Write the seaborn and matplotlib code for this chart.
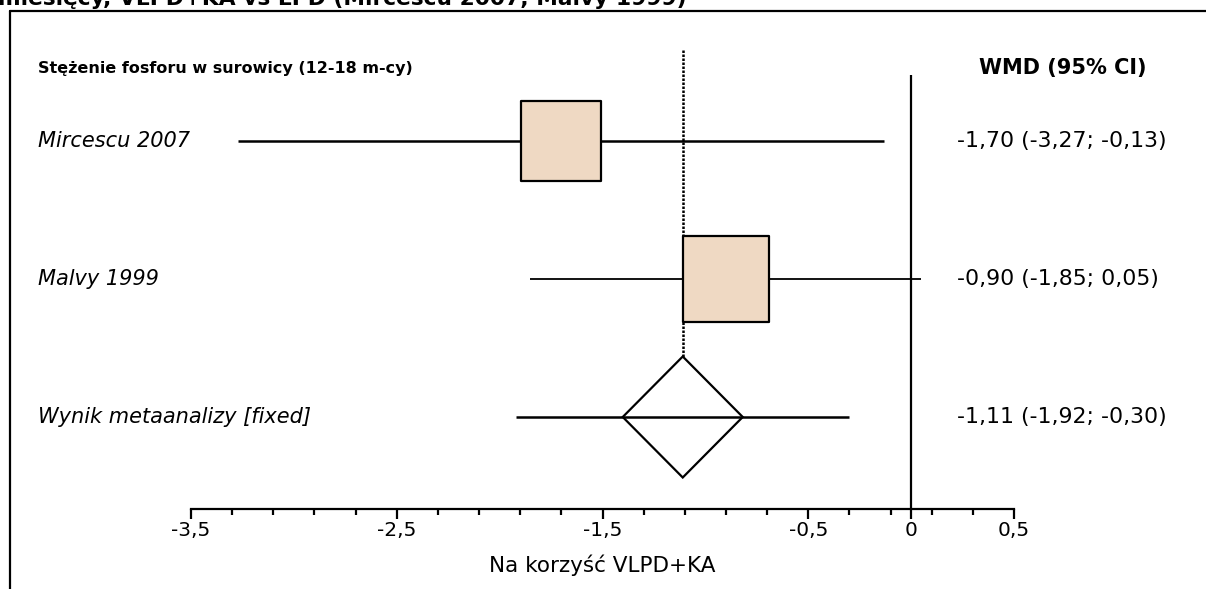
import numpy as np
import matplotlib.pyplot as plt
import matplotlib.transforms as mtransforms
from matplotlib.lines import Line2D
from matplotlib.patches import Polygon
import seaborn as sns

sns.set_style('white')
plt.rcParams['font.family'] = ['DejaVu Sans']
plt.rcParams['text.color'] = 'black'
plt.rcParams['axes.labelcolor'] = 'black'
plt.rcParams['xtick.color'] = 'black'

# data
studies = ['Mircescu 2007', 'Malvy 1999']
study_est = [-1.70, -0.90]
study_lo = [-3.27, -1.85]
study_hi = [-0.13, 0.05]
meta_label = 'Wynik metaanalizy [fixed]'
meta_est = -1.11
meta_lo = -1.92
meta_hi = -0.30
ci_text = ['-1,70 (-3,27; -0,13)', '-0,90 (-1,85; 0,05)', '-1,11 (-1,92; -0,30)']
major_ticks = [-3.5, -2.5, -1.5, -0.5, 0, 0.5]
major_labels = ['-3,5', '-2,5', '-1,5', '-0,5', '0', '0,5']

W, H = 1206, 589
fig = plt.figure(figsize=(W / 100, H / 100), dpi=100)

# axes spans the x axis (-3,5 .. 0,5) and rows above it
x0, x1, yax = 191, 1014, 509
ax = fig.add_axes([x0 / W, (H - yax) / H, (x1 - x0) / W, yax / H])
ax.set_xlim(-3.5, 0.5)
row0, rowstep = 141, 138
ax.set_ylim((yax - row0) / rowstep, -row0 / rowstep)
ax.patch.set_alpha(0)
for s in ['top', 'left', 'right']:
    ax.spines[s].set_visible(False)
ax.spines['bottom'].set_linewidth(1.6)
ax.spines['bottom'].set_color('black')
ax.set_yticks([])

minor = [v for v in np.round(np.arange(-3.5, 0.51, 0.2), 1) if v not in major_ticks]
ax.set_xticks(major_ticks)
ax.set_xticklabels(major_labels, fontsize=14.5)
ax.set_xticks(minor, minor=True)
ax.tick_params(axis='x', which='major', direction='out', length=7, width=1.6, pad=2, bottom=True)
ax.tick_params(axis='x', which='minor', direction='out', length=4, width=1.6, bottom=True)
ax.set_xlabel('Na korzyść VLPD+KA', fontsize=15.5, labelpad=10)

px_per_unit = (x1 - x0) / 4.0

# reference lines
ax.vlines(0, (75 - row0) / rowstep, ax.get_ylim()[0], color='black', lw=1.6, zorder=1)
diam_hh = 60.5 / rowstep
ax.vlines(meta_est, (50 - row0) / rowstep, 2 - diam_hh, color='black', lw=1.8,
          linestyles=(0, (1, 0.6)), zorder=1)

# study CI lines and boxes
rows = np.arange(len(studies))
ax.hlines(rows, study_lo, study_hi, color='black', lw=[1.8, 1.3], zorder=2)
box_px = [80, 86]
for r, e, b in zip(rows, study_est, box_px):
    sns.scatterplot(x=[e], y=[r], marker='s', s=(b * 0.72) ** 2, color='#efd9c3',
                    edgecolor='black', linewidth=1.6, ax=ax, zorder=3, legend=False)

# meta analysis diamond
mr = len(studies)
hw = 60 / px_per_unit
ax.add_patch(Polygon([[meta_est - hw, mr], [meta_est, mr - diam_hh],
                      [meta_est + hw, mr], [meta_est, mr + diam_hh]],
                     closed=True, facecolor='white', edgecolor='black', lw=1.6, zorder=3))
ax.hlines(mr, meta_lo, meta_hi, color='black', lw=1.8, zorder=4)

# text columns
tl = mtransforms.blended_transform_factory(fig.transFigure, ax.transData)
head_y = (68 - row0) / rowstep
fig.text(38 / W, head_y, 'Stężenie fosforu w surowicy (12-18 m-cy)', transform=tl,
         fontsize=11.5, fontweight='bold', va='center', ha='left')
fig.text(1063 / W, head_y, 'WMD (95% CI)', transform=tl,
         fontsize=15, fontweight='bold', va='center', ha='center')
for r, lab in enumerate(studies + [meta_label]):
    fig.text(38 / W, r, lab, transform=tl, fontsize=15, style='italic', va='center', ha='left')
for r, t in enumerate(ci_text):
    fig.text(957 / W, r, t, transform=tl, fontsize=15.8, va='center', ha='left')

# frame and clipped caption from the page
fig.add_artist(Line2D([10 / W, 10 / W], [0, 1 - 11 / H], color='black', lw=1.6))
fig.add_artist(Line2D([10 / W, 1], [1 - 11 / H, 1 - 11 / H], color='black', lw=1.6))
fig.text(-2 / W, 1 - 5 / H, 'miesięcy, VLPD+KA vs LPD (Mircescu 2007, Malvy 1999)',
         fontsize=15.7, fontweight='bold', va='baseline', ha='left')

fig.savefig('out.png', dpi=100)
plt.close('all')
